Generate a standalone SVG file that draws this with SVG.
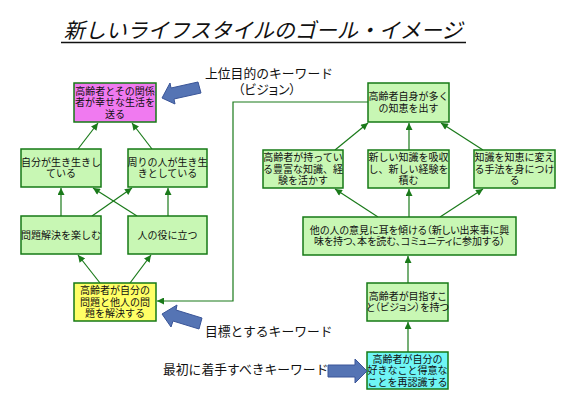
<svg xmlns="http://www.w3.org/2000/svg" width="570" height="403" viewBox="0 0 570 403">
<defs>
<style>
.t{font-family:"Noto Sans CJK JP","Noto Sans CJK SC",sans-serif;font-size:10px;fill:#111;text-anchor:middle}
.lbl{font-family:"Noto Sans CJK JP","Noto Sans CJK SC",sans-serif;font-size:12.8px;fill:#111}
.p{font-feature-settings:"palt"}
.box{stroke:#167a16;stroke-width:1.5}
.g{fill:#c8f7b4}
.c{fill:none;stroke:#1a7a1a;stroke-width:1.2}
.blue{fill:#5574b4;stroke:#3a5598;stroke-width:1}
</style>
<marker id="ah" viewBox="0 0 10 10" refX="10" refY="5" markerWidth="8" markerHeight="7" markerUnits="userSpaceOnUse" orient="auto">
<path d="M0,0 L10,5 L0,10 z" fill="#1a7a1a"/>
</marker>
</defs>
<rect width="570" height="403" fill="#fff"/>
<g id="title">
<text x="263" y="38" font-family="Noto Sans CJK JP,sans-serif" font-size="21" font-style="italic" text-anchor="middle" fill="#111">新しいライフスタイルのゴール・イメージ</text>
<line x1="61" y1="42.5" x2="466" y2="42.5" stroke="#111" stroke-width="1.5"/>
</g>
<g id="connectors">
<line class="c" x1="78" y1="149" x2="98" y2="123" marker-end="url(#ah)"/>
<line class="c" x1="152" y1="149" x2="132" y2="123" marker-end="url(#ah)"/>
<line class="c" x1="61" y1="216" x2="61" y2="188" marker-end="url(#ah)"/>
<line class="c" x1="168" y1="216" x2="168" y2="188" marker-end="url(#ah)"/>
<line class="c" x1="92" y1="216" x2="132" y2="188" marker-end="url(#ah)"/>
<line class="c" x1="137" y1="216" x2="93" y2="188" marker-end="url(#ah)"/>
<line class="c" x1="100" y1="283" x2="78" y2="255" marker-end="url(#ah)"/>
<line class="c" x1="130" y1="283" x2="151" y2="255" marker-end="url(#ah)"/>
<polyline class="c" points="368,102 233,102 233,301 157,301" marker-end="url(#ah)"/>
<line class="c" x1="335" y1="150" x2="368" y2="123" marker-end="url(#ah)"/>
<line class="c" x1="409" y1="150" x2="409" y2="123" marker-end="url(#ah)"/>
<line class="c" x1="483" y1="150" x2="441" y2="123" marker-end="url(#ah)"/>
<line class="c" x1="378" y1="217" x2="335" y2="189" marker-end="url(#ah)"/>
<line class="c" x1="409" y1="217" x2="409" y2="189" marker-end="url(#ah)"/>
<line class="c" x1="440" y1="217" x2="483" y2="189" marker-end="url(#ah)"/>
<line class="c" x1="408" y1="283" x2="408" y2="256" marker-end="url(#ah)"/>
<line class="c" x1="408" y1="352" x2="408" y2="322" marker-end="url(#ah)"/>
</g>
<g id="n-goal">
<rect class="box" x="74" y="83" width="82" height="39" fill="#f07af0"/>
<text class="t" y="94.6"><tspan x="115">高齢者とその関係</tspan><tspan x="115" dy="11.5">者が幸せな生活を</tspan><tspan x="115" dy="11.5">送る</tspan></text>
</g>
<g id="n-self">
<rect class="box g" x="21" y="149" width="80" height="38"/>
<text class="t" y="165.9"><tspan x="61">自分が生き生きし</tspan><tspan x="61" dy="11.5">ている</tspan></text>
</g>
<g id="n-others">
<rect class="box g" x="128" y="149" width="79" height="38"/>
<text class="t" y="165.9"><tspan x="167.5">周りの人が生き生</tspan><tspan x="167.5" dy="11.5">きとしている</tspan></text>
</g>
<g id="n-enjoy">
<rect class="box g" x="21" y="216" width="80" height="38"/>
<text class="t" x="61" y="238.6">問題解決を楽しむ</text>
</g>
<g id="n-help">
<rect class="box g" x="128" y="216" width="79" height="38"/>
<text class="t" x="167.5" y="238.6">人の役に立つ</text>
</g>
<g id="n-solve">
<rect class="box" x="74" y="283" width="82" height="38" fill="#ffff66"/>
<text class="t" y="294.1"><tspan x="115">高齢者が自分の</tspan><tspan x="115" dy="11.5">問題と他人の問</tspan><tspan x="115" dy="11.5">題を解決する</tspan></text>
</g>
<g id="n-wisdom">
<rect class="box g" x="368" y="83" width="81" height="39"/>
<text class="t" y="100.4"><tspan x="408.5">高齢者自身が多く</tspan><tspan x="408.5" dy="11.5">の知恵を出す</tspan></text>
</g>
<g id="n-knowledge">
<rect class="box g" x="263" y="150" width="80" height="38"/>
<text class="t" y="161.1"><tspan x="303">高齢者が持ってい</tspan><tspan x="303" dy="11.5">る豊富な知識、経</tspan><tspan x="303" dy="11.5">験を活かす</tspan></text>
</g>
<g id="n-absorb">
<rect class="box g" x="368" y="150" width="81" height="38"/>
<text class="t" y="161.1"><tspan x="408.5">新しい知識を吸収</tspan><tspan x="408.5" dy="11.5">し、新しい経験を</tspan><tspan x="408.5" dy="11.5">積む</tspan></text>
</g>
<g id="n-method">
<rect class="box g" x="474" y="150" width="81" height="38"/>
<text class="t" y="161.1"><tspan x="514.5">知識を知恵に変え</tspan><tspan x="514.5" dy="11.5">る手法を身につけ</tspan><tspan x="514.5" dy="11.5">る</tspan></text>
</g>
<g id="n-listen">
<rect class="box g" x="303" y="217" width="213" height="38"/>
<text class="t p" y="233.9"><tspan x="409.5">他の人の意見に耳を傾ける（新しい出来事に興</tspan><tspan x="409.5" dy="11.5">味を持つ、本を読む、コミュニティに参加する）</tspan></text>
</g>
<g id="n-vision">
<rect class="box g" x="367" y="283" width="81" height="38"/>
<text class="t p" y="299.9"><tspan x="407.5">高齢者が目指すこ</tspan><tspan x="407.5" dy="11.5">と（ビジョン）を持つ</tspan></text>
</g>
<g id="n-recognize">
<rect class="box" x="367" y="352" width="81" height="37" fill="#6ff5f5"/>
<text class="t" y="362.6"><tspan x="407.5">高齢者が自分の</tspan><tspan x="407.5" dy="11.5">好きなこと得意な</tspan><tspan x="407.5" dy="11.5">ことを再認識する</tspan></text>
</g>
<g id="labels">
<text class="lbl" x="205" y="78">上位目的のキーワード</text>
<text class="lbl p" x="267" y="94" text-anchor="middle">（ビジョン）</text>
<text class="lbl" x="205" y="336">目標とするキーワード</text>
<text class="lbl" x="163" y="374">最初に着手すべきキーワード</text>
<path class="blue" d="M162,98 L170,83 L171,88 L198,82 L201,93 L174,99 L175,104 Z"/>
<path class="blue" d="M162,314 L177,305 L176,310 L202,318 L199,329 L173,321 L171,327 Z"/>
<path class="blue" d="M328,365 L355,365 L355,359 L367,371 L355,383 L355,377 L328,377 Z"/>
</g>
</svg>
